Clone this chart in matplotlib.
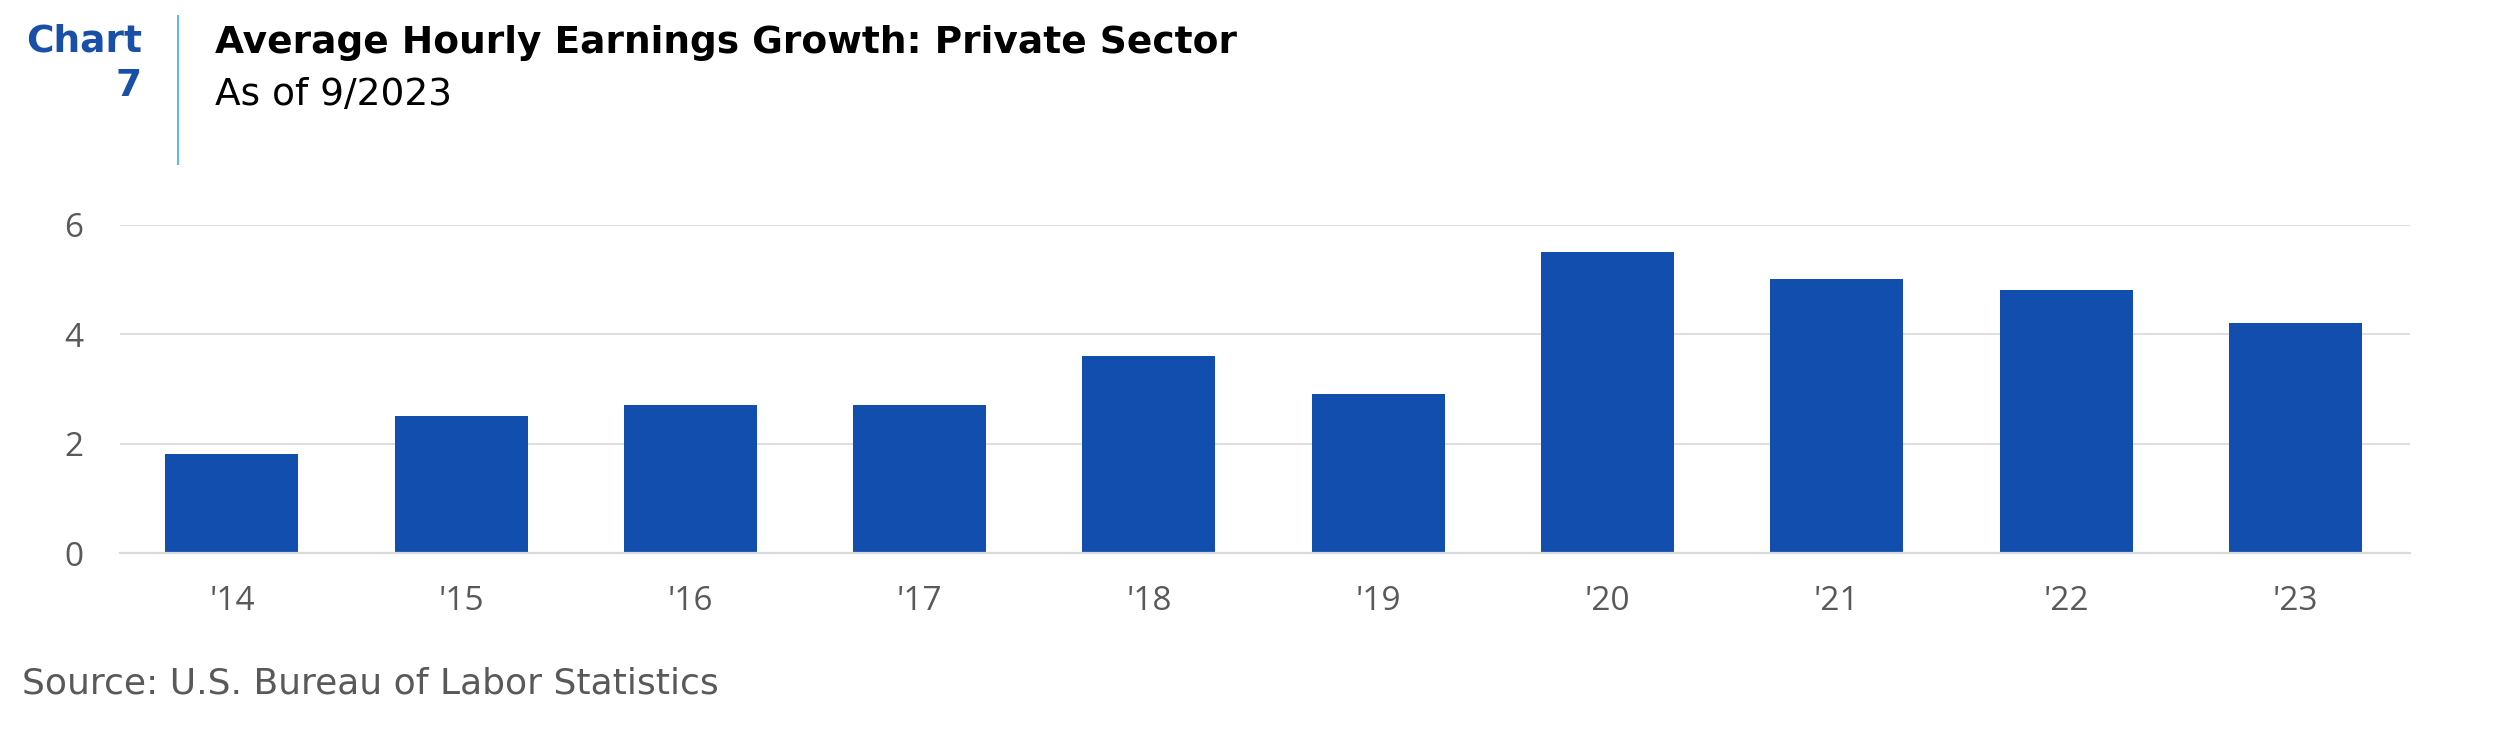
import matplotlib
matplotlib.use("Agg")
import matplotlib.pyplot as plt

years = ["'14", "'15", "'16", "'17", "'18", "'19", "'20", "'21", "'22", "'23"]
growth = [1.8, 2.5, 2.7, 2.7, 3.6, 2.9, 5.5, 5.0, 4.8, 4.2]
yticks = [0, 2, 4, 6]

W, H = 2498, 741
DPI = 100
fig = plt.figure(figsize=(W / DPI, H / DPI), dpi=DPI)
FONT = ["Open Sans", "DejaVu Sans"]
WIDE = ["DejaVu Sans"]

BAR = "#124eae"
GRID = "#d9d9d9"
TXT = "#595959"

def fx(px):
    return px / W

def fy(py):
    return 1 - py / H

ax = fig.add_axes([fx(119.5), fy(553), fx(2410) - fx(119.5), fy(224.6) - fy(553)])
x = list(range(len(years)))
ax.bar(x, growth, width=0.58, color=BAR, zorder=3)
ax.set_xlim(-0.49, len(years) - 0.5)
ax.set_ylim(0, 6)
ax.set_yticks(yticks)
ax.set_yticklabels([str(v) for v in yticks], family=FONT, fontsize=24, color=TXT)
ax.set_xticks(x)
ax.set_xticklabels(years, family=FONT, fontsize=24, color=TXT)
ax.yaxis.grid(True, color=GRID, linewidth=1.2, zorder=0)
ax.set_axisbelow(True)
for s in ["top", "right", "left"]:
    ax.spines[s].set_visible(False)
ax.spines["bottom"].set_color(GRID)
ax.spines["bottom"].set_linewidth(1.6)
ax.spines["bottom"].set_zorder(4)
ax.tick_params(axis="both", length=0)
ax.tick_params(axis="y", pad=26)
ax.tick_params(axis="x", pad=23)

# header
fig.text(fx(142), fy(51), "Chart", family=WIDE, fontsize=27, fontweight="bold",
         color="#1a4fa8", ha="right", va="baseline")
fig.text(fx(142), fy(96), "7", family=WIDE, fontsize=27, fontweight="bold",
         color="#1a4fa8", ha="right", va="baseline")
fig.add_artist(plt.Line2D([fx(178), fx(178)], [fy(16), fy(164)], color="#5bb8e8",
                          linewidth=1.4, transform=fig.transFigure))
fig.text(fx(215), fy(53), "Average Hourly Earnings Growth: Private Sector", family=WIDE,
         fontsize=27, fontweight="bold", color="#000000", ha="left", va="baseline")
fig.text(fx(215), fy(105), "As of 9/2023", family=WIDE, fontsize=27,
         color="#000000", ha="left", va="baseline")
fig.text(fx(22), fy(693), "Source: U.S. Bureau of Labor Statistics", family=WIDE,
         fontsize=26, color=TXT, ha="left", va="baseline")

fig.savefig("out.png", dpi=DPI)
